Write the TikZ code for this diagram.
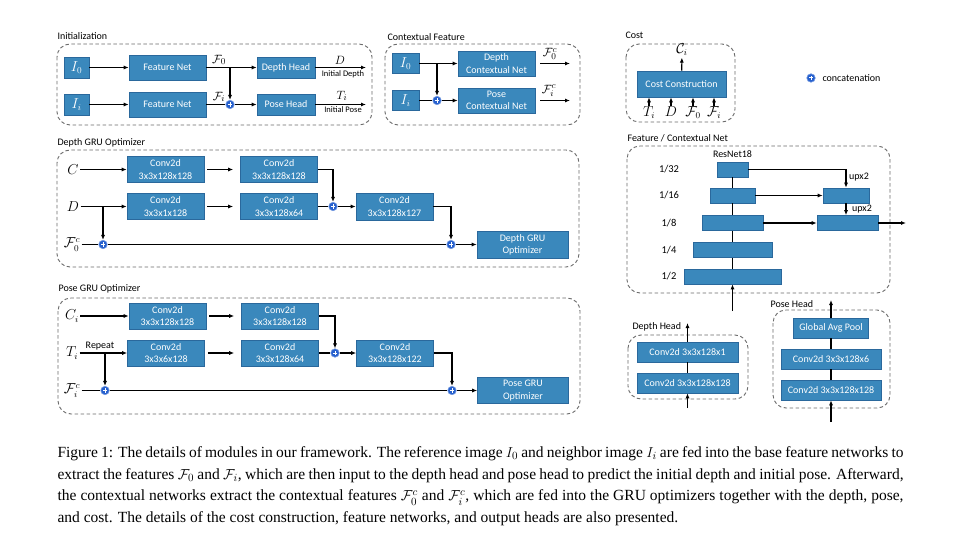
\documentclass[tikz,border=0pt]{standalone}
\usepackage{amsmath, amsfonts}
\usepackage{fontspec}
\setmainfont{Liberation Serif}
\newfontfamily\calib{Carlito}
\usepackage{tikz}
\usetikzlibrary{arrows.meta, calc}
\usepackage{xcolor}

\definecolor{boxblue}{RGB}{58,136,188}
\definecolor{boxedge}{RGB}{42,104,156}
\definecolor{catblue}{RGB}{38,96,206}
\definecolor{framegray}{RGB}{105,105,105}

\newcommand{\boxfont}{\calib\fontsize{10}{12.3}\selectfont}
\newcommand{\smallfont}{\calib\fontsize{8.5}{10}\selectfont}
\newcommand{\symfont}{\fontsize{13.5}{15}\selectfont}

\tikzset{
  blk/.style={draw=boxedge, line width=0.6pt, fill=boxblue, text=white, font=\boxfont, align=center, inner sep=0pt},
  sz/.style 2 args={minimum width=#1pt, minimum height=#2pt},
  grp/.style={draw=framegray, line width=0.9pt, dash pattern=on 3.5pt off 2.5pt, rounded corners=13pt},
  ttl/.style={anchor=west, inner sep=0pt, font=\boxfont},
  concat/.style={circle, fill=catblue, draw=catblue!65!white, line width=0.6pt, minimum size=8.5pt, inner sep=0pt,
    path picture={\draw[white, line width=1pt]
      ([xshift=-2.2pt]path picture bounding box.center) -- ([xshift=2.2pt]path picture bounding box.center)
      ([yshift=-2.2pt]path picture bounding box.center) -- ([yshift=2.2pt]path picture bounding box.center);}},
  arr/.style={-{Latex[length=5pt, width=4pt]}},
  spaced/.style={shorten <=3pt, shorten >=7pt},
  symb/.style={inner sep=1pt, font=\symfont},
  smalltxt/.style={inner sep=0pt, font=\smallfont},
}

\begin{document}
\begin{tikzpicture}[x=1pt, y=-1pt, line width=1.1pt]
  \useasboundingbox (0,0) rectangle (960,553);

  % initialization
  \node[ttl] (tInit) at (57,36) {Initialization};
  \draw[grp] (57,44) rectangle (372,125);
  \node[blk, sz={25}{21}, font=\symfont] (I0) at (76.5,67.5) {$I_0$};
  \node[blk, sz={25}{21}, font=\symfont] (Ii) at (76.5,104.5) {$I_i$};
  \node[blk, sz={77}{25}] (fn0) at (167.5,67.5) {Feature Net};
  \node[blk, sz={77}{25}] (fni) at (167.5,104.5) {Feature Net};
  \node[blk, sz={58}{21}] (dhead) at (286,67.5) {Depth Head};
  \node[blk, sz={58}{21}] (phead) at (286,104.5) {Pose Head};
  \node[concat] (cI) at (230,104.5) {};
  \coordinate (oD) at (366,67.5);
  \coordinate (oT) at (366,104.5);
  \draw[arr] (I0) -- (fn0);
  \draw[arr] (Ii) -- (fni);
  \draw[arr] (fn0) -- (dhead);
  \draw (fni) -- (cI);
  \draw[arr] (cI) -- (phead);
  \draw[arr] (cI |- fn0) -- (cI);
  \draw[arr] (dhead) -- (oD);
  \draw[arr] (phead) -- (oT);
  \node[symb, font=\fontsize{12.5}{14}\selectfont] (lF0) at (219,60) {$\mathcal{F}_0$};
  \node[symb, font=\fontsize{12.5}{14}\selectfont] (lFi) at (219,97) {$\mathcal{F}_i$};
  \node[symb, font=\fontsize{12.5}{14}\selectfont] (lD) at (340,60) {$D$};
  \node[smalltxt] (lDinit) at (343,74) {Initial Depth};
  \node[symb, font=\fontsize{12.5}{14}\selectfont] (lT) at (342,96) {$T_i$};
  \node[smalltxt] (lTinit) at (343,110) {Initial Pose};

  % contextual feature
  \node[ttl] (tCtx) at (387,37) {Contextual Feature};
  \draw[grp] (385,44) rectangle (580,125);
  \node[blk, sz={27}{20}, font=\symfont] (I0c) at (405.5,63.5) {$I_0$};
  \node[blk, sz={27}{20}, font=\symfont] (Iic) at (405.5,100.5) {$I_i$};
  \node[blk, sz={77}{25}] (dcn) at (496.5,63.5) {Depth\\Contextual Net};
  \node[blk, sz={77}{25}] (pcn) at (496.5,100.5) {Pose\\Contextual Net};
  \node[concat] (cC) at (437,100.5) {};
  \coordinate (oF0c) at (570,63.5);
  \coordinate (oFic) at (570,100.5);
  \draw[arr] (I0c) -- (dcn);
  \draw (Iic) -- (cC);
  \draw[arr] (cC) -- (pcn);
  \draw[arr] (cC |- I0c) -- (cC);
  \draw[arr, shorten <=5pt] (dcn) -- (oF0c);
  \draw[arr, shorten <=5pt] (pcn) -- (oFic);
  \node[symb, font=\fontsize{12.5}{14}\selectfont] (lF0c) at (550,54) {$\mathcal{F}_0^c$};
  \node[symb, font=\fontsize{12.5}{14}\selectfont] (lFic) at (549,91) {$\mathcal{F}_i^c$};

  % cost
  \node[ttl] (tCost) at (625,35) {Cost};
  \draw[grp] (626,44) rectangle (735,122);
  \node[blk, sz={89}{26}] (cc) at (681.5,84) {Cost Construction};
  \node[symb] (lCi) at (682,50) {$\mathcal{C}_i$};
  \draw[arr] (cc) -- (lCi);
  \foreach \x/\s/\nm in {649/T_i/cT, 671/D/cD, 693/\mathcal{F}_0/cF0, 714/\mathcal{F}_i/cFi}{
    \node[symb, text height=9pt, text depth=2pt] (\nm) at (\x,113) {$\s$};
    \draw[arr] (\nm) -- (\nm |- cc.south);
  }
  \node[concat] (catKey) at (811,78) {};
  \node[ttl] (catTxt) at (822,78) {concatenation};

  % depth GRU optimizer
  \node[ttl] (tDgru) at (57,143) {Depth GRU Optimizer};
  \draw[grp] (57,150) rectangle (579,267);
  \node[symb] (dC) at (73,169.5) {$C$};
  \node[symb] (dD) at (73,206.5) {$D$};
  \node[symb] (dF) at (72,244.5) {$\mathcal{F}_0^c$};
  \node[blk, sz={77}{26}] (dg1) at (165.5,169.5) {Conv2d\\3x3x128x128};
  \node[blk, sz={77}{26}] (dg2) at (279,169.5) {Conv2d\\3x3x128x128};
  \node[blk, sz={77}{26}] (dg3) at (165.5,206.5) {Conv2d\\3x3x1x128};
  \node[blk, sz={77}{26}] (dg4) at (279,206.5) {Conv2d\\3x3x128x64};
  \node[blk, sz={77}{27}] (dg5) at (394.5,206.5) {Conv2d\\3x3x128x127};
  \node[blk, sz={91}{27}] (dopt) at (522.5,244.5) {Depth GRU\\Optimizer};
  \node[concat] (dc0) at (103,244.5) {};
  \node[concat] (dc1) at (333,206.5) {};
  \node[concat] (dc2) at (451,244.5) {};
  \draw[arr] (dC) -- (dg1);
  \draw[arr, spaced] (dg1) -- (dg2);
  \draw[arr] (dg2) -| (dc1);
  \draw[arr] (dD) -- (dg3);
  \draw[arr, spaced] (dg3) -- (dg4);
  \draw (dg4) -- (dc1);
  \draw[arr] (dc1) -- (dg5);
  \draw[arr] (dg5) -| (dc2);
  \draw[arr] (dc0 |- dD) -- (dc0);
  \draw (dF) -- (dc0);
  \draw (dc0) -- (dc2);
  \draw[arr] (dc2) -- (dopt);

  % pose GRU optimizer
  \node[ttl] (tPgru) at (58,289) {Pose GRU Optimizer};
  \draw[grp] (58,298) rectangle (580,414);
  \node[symb] (pC) at (72,316) {$C_i$};
  \node[symb] (pT) at (72,353) {$T_i$};
  \node[symb] (pF) at (72,390.5) {$\mathcal{F}_i^c$};
  \node[smalltxt, font=\boxfont] (lRep) at (100,346.5) {Repeat};
  \node[blk, sz={77}{26}] (pg1) at (167.5,316) {Conv2d\\3x3x128x128};
  \node[blk, sz={77}{26}] (pg2) at (280,316) {Conv2d\\3x3x128x128};
  \node[blk, sz={77}{26}] (pg3) at (166,353) {Conv2d\\3x3x6x128};
  \node[blk, sz={77}{26}] (pg4) at (280,353) {Conv2d\\3x3x128x64};
  \node[blk, sz={77}{26}] (pg5) at (395,353) {Conv2d\\3x3x128x122};
  \node[blk, sz={91}{26}] (popt) at (523,390.5) {Pose GRU\\Optimizer};
  \node[concat] (pc0) at (105,390.5) {};
  \node[concat] (pc1) at (335,353) {};
  \node[concat] (pc2) at (452,390.5) {};
  \draw[arr] (pC) -- (pg1);
  \draw[arr, spaced] (pg1) -- (pg2);
  \draw[arr] (pg2) -| (pc1);
  \draw[arr] (pT) -- (pg3);
  \draw[arr, spaced] (pg3) -- (pg4);
  \draw (pg4) -- (pc1);
  \draw[arr] (pc1) -- (pg5);
  \draw[arr] (pg5) -| (pc2);
  \draw[arr] (pc0 |- pT) -- (pc0);
  \draw (pF) -- (pc0);
  \draw (pc0) -- (pc2);
  \draw[arr] (pc2) -- (popt);

  % feature / contextual net
  \node[ttl] (tFeat) at (627,138) {Feature / Contextual Net};
  \draw[grp] (627,146) rectangle (890,293);
  \node[smalltxt, font=\boxfont] (lRes) at (732.5,154.5) {ResNet18};
  \foreach \nm/\w/\y/\lab in {r32/31/169.5/32, r16/45/195.5/16, r8/61/223/8, r4/79/250/4, r2/97/276.5/2}{
    \node[blk, sz={\w}{15}] (\nm) at (732.5,\y) {};
    \node[inner sep=0pt, font=\calib\fontsize{10.5}{12}\selectfont] (l\nm) at (669,\y) {1/\lab};
  }
  \foreach \a/\b in {r32/r16, r16/r8, r8/r4, r4/r2}
    \draw (\a) -- (\b);
  \coordinate (rin) at (732.5,311);
  \draw[arr] (rin) -- (r2);
  \node[blk, sz={46}{15}] (u16) at (846,195.5) {};
  \node[blk, sz={61}{15}] (u8) at (847.5,223) {};
  \coordinate (fout) at (906,223);
  \draw[arr] (r32) -| (u16);
  \draw[arr] (r16) -- (u16);
  \draw[arr] (u16) -- (u16 |- u8.north);
  \draw[arr] (r8) -- (u8);
  \draw[arr] (u8) -- (fout);
  \node[smalltxt, font=\boxfont] (lup1) at (859,177) {upx2};
  \node[smalltxt, font=\boxfont] (lup2) at (862,209) {upx2};

  % depth head
  \node[ttl] (tDh) at (632,327) {Depth Head};
  \draw[grp] (628,335) rectangle (748,399);
  \node[blk, sz={101}{20}] (dh1) at (687.5,352) {Conv2d 3x3x128x1};
  \node[blk, sz={101}{20}] (dh2) at (687.5,383) {Conv2d 3x3x128x128};
  \coordinate (dhin) at (687.5,408);
  \coordinate (dhout) at (687.5,323);
  \draw[arr] (dhin) -- (dh2);
  \draw (dh2) -- (dh1);
  \draw[arr] (dh1) -- (dhout);

  % pose head
  \node[ttl] (tPh) at (770,304) {Pose Head};
  \draw[grp] (773,310) rectangle (890,408);
  \node[blk, sz={75}{20}] (gavg) at (831,328) {Global Avg Pool};
  \node[blk, sz={100}{20}] (ph1) at (831,359) {Conv2d 3x3x128x6};
  \node[blk, sz={100}{20}] (ph2) at (831,390) {Conv2d 3x3x128x128};
  \coordinate (phin) at (831,422);
  \coordinate (phout) at (831,300);
  \draw[arr] (phin) -- (ph2);
  \draw (ph2) -- (ph1);
  \draw (ph1) -- (gavg);
  \draw[arr] (gavg) -- (phout);

  % caption
  \node[anchor=base west, inner sep=0pt, align=left,
        font=\fontsize{15.5}{21.7}\selectfont] (cap) at (57,522.6)
    {\makebox[846pt][s]{Figure 1: The details of modules in our framework. The reference image $I_0$ and neighbor image $I_i$ are fed into the base feature networks to}\\
     \makebox[846pt][s]{extract the features $\mathcal{F}_0$ and $\mathcal{F}_i$, which are then input to the depth head and pose head to predict the initial depth and initial pose. Afterward,}\\
     \makebox[846pt][s]{the contextual networks extract the contextual features $\mathcal{F}_0^c$ and $\mathcal{F}_i^c$, which are fed into the GRU optimizers together with the depth, pose,}\\
     and cost. The details of the cost construction, feature networks, and output heads are also presented.};
\end{tikzpicture}
\end{document}
